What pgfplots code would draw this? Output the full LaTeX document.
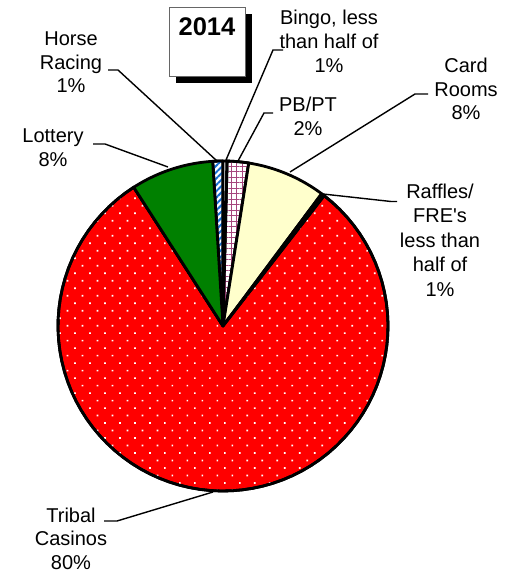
\documentclass[border=0pt]{standalone}
\usepackage{pgfplots}
\pgfplotsset{compat=1.18}
\usepackage{fontspec}
\setmainfont{Liberation Sans}[Ligatures=TeXOff]
\usetikzlibrary{patterns.meta}

\definecolor{pieRed}{RGB}{255,0,0}
\definecolor{pieGreen}{RGB}{0,128,0}
\definecolor{pieCream}{RGB}{255,255,204}
\definecolor{pieBlue}{RGB}{20,110,210}
\definecolor{piePink}{RGB}{165,70,125}

\newcommand\lbl[3]{\node[anchor=base, font=\fontsize{20bp}{24bp}\selectfont] at (axis cs:#1,#2) {#3};}

\begin{document}
\begin{tikzpicture}
\def\cx{223}\def\cy{326}\def\rr{165}
% shares of the pie, in percent, clockwise from Horse Racing
\pgfmathsetmacro{\aA}{-3.6}
\pgfmathsetmacro{\aB}{\aA+3.6*1.0}  % Horse Racing 1
\pgfmathsetmacro{\aC}{\aB+3.6*0.4}  % Bingo 0.4
\pgfmathsetmacro{\aD}{\aC+3.6*2.1}  % PB/PT 2.1
\pgfmathsetmacro{\aE}{\aD+3.6*7.7}  % Card Rooms 7.7
\pgfmathsetmacro{\aF}{\aE+3.6*0.3}  % Raffles 0.3
\pgfmathsetmacro{\aG}{\aF+3.6*80.4} % Tribal Casinos 80.4
\pgfmathsetmacro{\aH}{\aG+3.6*8.1}  % Lottery 8.1
\begin{axis}[scale only axis, width=516bp, height=573bp,
  xmin=0, xmax=516, ymin=0, ymax=573, y dir=reverse,
  hide axis, clip=false]
\pgfplotsset{pie/.style={draw=black, line width=2.8bp, line join=round, samples=80, mark=none}}
\coordinate (BL) at (axis cs:0,573);
\coordinate (TR) at (axis cs:516,0);
% Horse Racing
\addplot[pie, preaction={fill=white}, pattern={Lines[angle=45, distance=4.5bp, line width=2bp]}, pattern color=pieBlue, domain=\aA:\aB]
  ({\cx+\rr*sin(x)},{\cy-\rr*cos(x)}) -- (axis cs:\cx,\cy) -- cycle;
% Bingo
\addplot[pie, fill=white, domain=\aB:\aC]
  ({\cx+\rr*sin(x)},{\cy-\rr*cos(x)}) -- (axis cs:\cx,\cy) -- cycle;
% PB/PT
\addplot[pie, preaction={fill=white}, pattern={Hatch[distance=5.5bp, line width=0.9bp]}, pattern color=piePink, domain=\aC:\aD]
  ({\cx+\rr*sin(x)},{\cy-\rr*cos(x)}) -- (axis cs:\cx,\cy) -- cycle;
% Card Rooms
\addplot[pie, fill=pieCream, domain=\aD:\aE]
  ({\cx+\rr*sin(x)},{\cy-\rr*cos(x)}) -- (axis cs:\cx,\cy) -- cycle;
% Raffles
\addplot[pie, fill=pieCream, domain=\aE:\aF]
  ({\cx+\rr*sin(x)},{\cy-\rr*cos(x)}) -- (axis cs:\cx,\cy) -- cycle;
% Tribal Casinos
\addplot[pie, preaction={fill=pieRed}, pattern={Dots[distance=10.6bp, angle=45, radius=1.2bp]}, pattern color=white, domain=\aF:\aG]
  ({\cx+\rr*sin(x)},{\cy-\rr*cos(x)}) -- (axis cs:\cx,\cy) -- cycle;
% Lottery
\addplot[pie, fill=pieGreen, domain=\aG:\aH]
  ({\cx+\rr*sin(x)},{\cy-\rr*cos(x)}) -- (axis cs:\cx,\cy) -- cycle;

% leader lines
\addplot[black, line width=1.4bp, mark=none] coordinates {(108,70) (118,70) (217,161)};
\addplot[black, line width=1.4bp, mark=none] coordinates {(93,144) (105,144) (168,167)};
\addplot[black, line width=1.4bp, mark=none] coordinates {(283,50) (273,50) (226,160)};
\addplot[black, line width=1.4bp, mark=none] coordinates {(273,113) (264,113) (238,161)};
\addplot[black, line width=1.4bp, mark=none] coordinates {(428,94) (415,94) (290,172)};
\addplot[black, line width=1.4bp, mark=none] coordinates {(323,194) (391,201.5) (397,201.5)};
\addplot[black, line width=1.4bp, mark=none] coordinates {(104,521) (117,521) (213,492)};

% labels
\lbl{71}{46}{Horse}\lbl{71}{70}{Racing}\lbl{71}{93}{1\%}
\lbl{329}{25}{Bingo, less}\lbl{329}{49}{than half of}\lbl{329}{73}{1\%}
\lbl{308}{112}{PB/PT}\lbl{308}{135}{2\%}
\lbl{466}{73}{Card}\lbl{466}{97}{Rooms}\lbl{466}{120}{8\%}
\lbl{440}{198}{Raffles/}\lbl{440}{222.5}{FRE's}\lbl{440}{247}{less than}\lbl{440}{271.5}{half of}\lbl{440}{296}{1\%}
\lbl{53}{142}{Lottery}\lbl{53}{166}{8\%}
\lbl{71}{522}{Tribal}\lbl{71}{545}{Casinos}\lbl{71}{569}{80\%}

% title box
\fill[black] (axis cs:176,14) rectangle (axis cs:252,83);
\draw[fill=white, draw=black!60, line width=0.8bp] (axis cs:169,7) rectangle (axis cs:245,76);
\node[anchor=base, font=\bfseries\fontsize{25.5bp}{30bp}\selectfont] at (axis cs:207,36) {2014};
\end{axis}
\pgfresetboundingbox
\path (BL) rectangle (TR);
\end{tikzpicture}
\end{document}
